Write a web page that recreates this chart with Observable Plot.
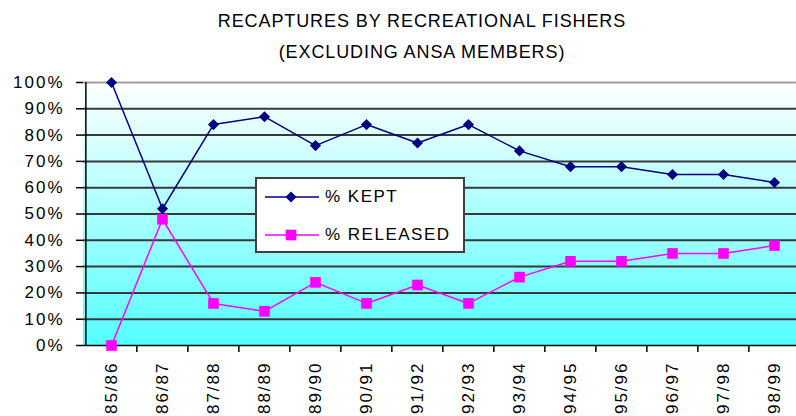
<!DOCTYPE html>
<html>
<head>
<meta charset="utf-8">
<script src="https://cdn.jsdelivr.net/npm/d3@7"></script>
<script src="https://cdn.jsdelivr.net/npm/@observablehq/plot@0.6"></script>
<style>
  html, body { margin: 0; padding: 0; background: #fff; overflow: hidden; width: 796px; height: 416px; }
  #wrap { position: relative; width: 796px; height: 416px; font-family: "Liberation Sans", Arial, sans-serif; }
  #title { height: 70px; box-sizing: border-box; padding-top: 6px; padding-left: 48px; width: 796px;
           text-align: center; font-size: 18px; line-height: 31px; color: #000; letter-spacing: 0.9px; }
  #chart svg { max-width: none !important; display: block; }
  #chart svg text { letter-spacing: 2px; }
  #legend { position: absolute; left: 255px; top: 177px; width: 210px; height: 76px; box-sizing: border-box;
            background: #fff; border: 2px solid #404040; }
  .item { position: absolute; left: 6px; height: 20px; display: flex; align-items: center; font-size: 17px; letter-spacing: 1.5px; }
  .item svg { margin-right: 6px; }
</style>
</head>
<body>
<div id="wrap">
  <div id="title">RECAPTURES BY RECREATIONAL FISHERS<br>(EXCLUDING ANSA MEMBERS)</div>
  <div id="chart"></div>
  <div id="legend"></div>
</div>
<script>
const seasons = ["85/86","86/87","87/88","88/89","89/90","90/91","91/92","92/93","93/94","94/95","95/96","96/97","97/98","98/99"];
const kept = [100, 52, 84, 87, 76, 84, 77, 84, 74, 68, 68, 65, 65, 62];
const released = [0, 48, 16, 13, 24, 16, 23, 16, 26, 32, 32, 35, 35, 38];
const yTicks = [0, 10, 20, 30, 40, 50, 60, 70, 80, 90, 100];
const seriesNames = ["% KEPT", "% RELEASED"];
const seriesColors = ["#000080", "#ff00ff"];

const data = seasons.map((s, i) => ({season: s, kept: kept[i], released: released[i]}));

const W = 801, ML = 83, MR = 0;
const step = (W - ML - MR) / seasons.length;

function background(index, scales, values, dims) {
  const g = d3.create("svg:g");
  const grad = g.append("defs").append("linearGradient")
    .attr("id", "bggrad").attr("x1", 0).attr("y1", 0).attr("x2", 0).attr("y2", 1);
  grad.append("stop").attr("offset", "0%").attr("stop-color", "#ffffff");
  grad.append("stop").attr("offset", "100%").attr("stop-color", "#55ffff");
  const y0 = scales.y(0), y1 = scales.y(100);
  g.append("rect")
    .attr("x", dims.marginLeft).attr("y", y1)
    .attr("width", dims.width - dims.marginLeft - dims.marginRight)
    .attr("height", y0 - y1)
    .attr("fill", "url(#bggrad)");
  return g.node();
}

const chart = Plot.plot({
  width: W, height: 346,
  marginLeft: ML, marginRight: MR, marginTop: 12, marginBottom: 71,
  x: {type: "point", domain: seasons, padding: 0.5, label: null},
  y: {domain: [0, 100], label: null},
  style: {fontFamily: "'Liberation Sans', Arial, sans-serif", fontSize: "17px", color: "#000", background: "transparent", overflow: "visible"},
  marks: [
    background,
    Plot.ruleY(yTicks.filter(d => d > 0), {y: d => d, stroke: d => d === 100 ? "#a0a0a0" : "#383838", strokeWidth: 2}),
    Plot.ruleY([0], {stroke: "#000", strokeWidth: 1.5}),
    Plot.axisY({ticks: yTicks, tickFormat: d => d + "%", tickSize: 7, tickPadding: 12, fontSize: 17, strokeWidth: 1.5, stroke: "#000"}),
    Plot.ruleX([seasons[0]], {dx: -step / 2, y1: 0, y2: 100, stroke: "#000", strokeWidth: 1.5}),
    Plot.axisX({ticks: seasons.slice(1), tickFormat: () => "", tickSize: 7, dx: -step / 2, strokeWidth: 1.5, stroke: "#000"}),
    Plot.axisX({tickRotate: -90, tickSize: 0, tickPadding: 16, fontSize: 17}),
    Plot.line(data, {x: "season", y: "kept", stroke: seriesColors[0], strokeWidth: 1.5}),
    Plot.line(data, {x: "season", y: "released", stroke: seriesColors[1], strokeWidth: 1.5}),
    Plot.dot(data, {x: "season", y: "kept", symbol: "diamond2", r: 5, fill: seriesColors[0]}),
    Plot.dot(data, {x: "season", y: "released", symbol: "square", r: 6, fill: seriesColors[1]})
  ]
});
document.getElementById("chart").appendChild(chart);

// legend
const legend = document.getElementById("legend");
const symbols = ["diamond", "square"];
seriesNames.forEach((name, i) => {
  const item = document.createElement("div");
  item.className = "item";
  item.style.top = (i === 0 ? 8 : 46) + "px";
  const s = d3.create("svg").attr("width", 56).attr("height", 20);
  s.append("line").attr("x1", 2).attr("x2", 56).attr("y1", 10).attr("y2", 10)
    .attr("stroke", seriesColors[i]).attr("stroke-width", 1.5);
  const sym = symbols[i] === "diamond" ? d3.symbolDiamond2 : d3.symbolSquare;
  const size = symbols[i] === "diamond" ? 25 * Math.PI : 36 * Math.PI;
  s.append("path").attr("transform", "translate(28,10)")
    .attr("d", d3.symbol(sym, size)()).attr("fill", seriesColors[i]);
  item.appendChild(s.node());
  const t = document.createElement("span");
  t.textContent = name;
  item.appendChild(t);
  legend.appendChild(item);
});
</script>
</body>
</html>
